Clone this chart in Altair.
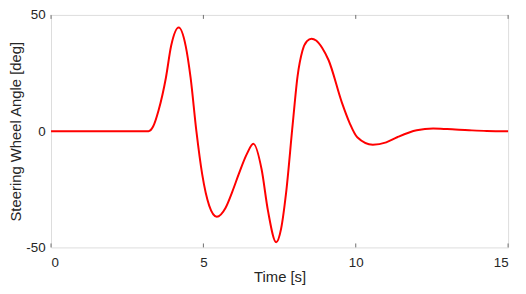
import altair as alt
import pandas as pd

# Time [s]
time_s = [0, 3.2, 3.35, 3.53, 3.77, 3.94, 4.19, 4.42, 4.58, 4.77, 4.96, 5.19, 5.44,
          5.73, 5.95, 6.16, 6.42, 6.64, 6.91, 7.12, 7.39, 7.55, 7.71, 7.93, 8.09,
          8.25, 8.4, 8.55, 8.7, 8.9, 9.11, 9.54, 9.8, 10.05, 10.56, 11.0, 11.36, 12.0, 12.54,
          13.0, 13.72, 14.3, 15]
# Steering wheel angle [deg]
angle_deg = [0, 0, 2, 9, 23, 36.6, 44.6, 36.6, 23, 0, -18.5, -32, -36.8,
             -32.9, -26, -18.5, -10, -5.4, -16.4, -34.3, -47.8, -42, -27, 2.9, 23.6,
             34.6, 38.7, 39.8, 39.0, 35.8, 30.5, 12.5, 3.5, -2.6, -5.8, -4.8, -2.6, 0.4, 1.1,
             0.9, 0.4, 0.1, 0]

x_ticks = [0, 5, 10, 15]
y_ticks = [-50, 0, 50]

W, H = 462, 235
FONT = "Liberation Sans"
TXT = "#262626"
GRAY = "#6e6e6e"

df = pd.DataFrame({"t": time_s, "a": angle_deg})
tick_df = pd.DataFrame({"tick": x_ticks})

xs = alt.Scale(domain=[0, 15], nice=False, zero=False)
ys = alt.Scale(domain=[-50, 50], nice=False, zero=False)

line = alt.Chart(df).mark_line(color="#ff0000", strokeWidth=2, interpolate="monotone").encode(
    x=alt.X("t:Q", scale=xs, axis=alt.Axis(
        title="Time [s]", values=x_ticks, ticks=False, domain=False, grid=False,
        labelPadding=8, labelFontSize=13.5, labelFont=FONT, labelColor=TXT,
        labelExpr="'' + datum.value",
        titleFont=FONT, titleFontSize=15, titleColor=TXT, titleFontWeight="normal",
        titleY=29, titleBaseline="middle")),
    y=alt.Y("a:Q", scale=ys, axis=alt.Axis(
        title="Steering Wheel Angle [deg]", values=y_ticks, ticks=False, domain=False, grid=False,
        labelPadding=6, labelFontSize=13.5, labelFont=FONT, labelColor=TXT,
        labelExpr="'' + datum.value",
        titleFont=FONT, titleFontSize=15, titleColor=TXT, titleFontWeight="normal",
        titleX=-36, titleY=H / 2, titleAngle=-90, titleBaseline="middle", titleAlign="center")),
)

ticks_bottom = alt.Chart(tick_df).mark_rule(color=GRAY, strokeWidth=1).encode(
    x=alt.X("tick:Q", scale=xs), y=alt.value(H), y2=alt.value(H - 4))
ticks_top = alt.Chart(tick_df).mark_rule(color=GRAY, strokeWidth=1).encode(
    x=alt.X("tick:Q", scale=xs), y=alt.value(0), y2=alt.value(4))

chart = alt.layer(ticks_bottom, ticks_top, line).properties(
    width=W, height=H,
    autosize=alt.AutoSizeParams(type="none"),
    padding={"left": 43.5, "top": 5.5, "right": 10, "bottom": 37.5},
).configure_view(stroke=GRAY, strokeWidth=1.2).configure(background="white")

chart.save("out.html", embed_options={"renderer": "svg", "actions": False})
